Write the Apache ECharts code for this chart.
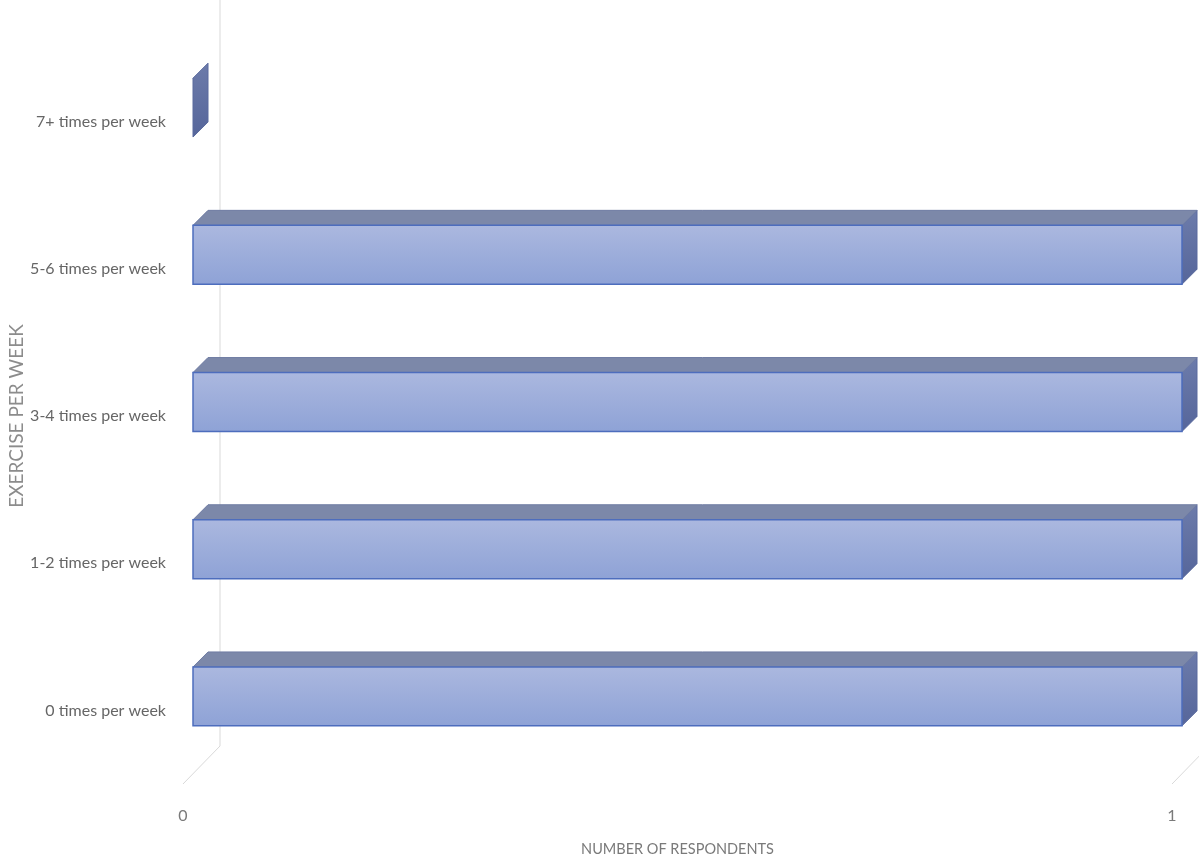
<!DOCTYPE html>
<html>
<head>
<meta charset="utf-8">
<script src="https://cdn.jsdelivr.net/npm/echarts@6/dist/echarts.min.js"></script>
<style>
  html, body { margin: 0; padding: 0; background: #ffffff; }
  #chart { width: 1199px; height: 859px; }
</style>
</head>
<body>
<div id="chart"></div>
<script>
// Exercise frequency categories (bottom to top) and respondent counts
const categories = ['0 times per week', '1-2 times per week', '3-4 times per week', '5-6 times per week', '7+ times per week'];
const respondents = [1, 1, 1, 1, 0];
const xTicks = [0, 1];

const FONT = 'Lato, "Open Sans", sans-serif';

// Pseudo-3D geometry: bar sits a little behind the floor's front edge
const BAR_OX = 10, BAR_OY = -14;   // shift of the bar's front face from the front plane
const BAR_DX = 15, BAR_DY = -15;   // bar depth
const WALL_DX = 37, WALL_DY = -38; // floor depth (front edge to back wall)

function renderBar(params, api) {
  const v = api.value(0), c = api.value(1);
  const p0 = api.coord([0, c]);
  const p1 = api.coord([v, c]);
  const band = api.size([0, 1])[1];
  const h = band * 0.4;
  const x0 = p0[0] + BAR_OX, x1 = p1[0] + BAR_OX;
  const yc = p0[1] + BAR_OY;
  const y0 = yc - h / 2, y1 = yc + h / 2;
  const children = [];
  // end face
  children.push({
    type: 'polygon',
    shape: { points: [[x1, y0], [x1 + BAR_DX, y0 + BAR_DY], [x1 + BAR_DX, y1 + BAR_DY], [x1, y1]] },
    style: {
      fill: new echarts.graphic.LinearGradient(0, 0, 1, 1, [
        { offset: 0, color: '#6d7cab' }, { offset: 1, color: '#55659a' }
      ]),
      stroke: '#5a6a9e', lineWidth: 1
    }
  });
  if (x1 - x0 > 1) {
    // top face
    children.push({
      type: 'polygon',
      shape: { points: [[x0, y0], [x0 + BAR_DX, y0 + BAR_DY], [x1 + BAR_DX, y0 + BAR_DY], [x1, y0]] },
      style: { fill: '#7c88a9', stroke: '#6f7ca3', lineWidth: 1 }
    });
    // front face
    children.push({
      type: 'rect',
      shape: { x: x0, y: y0, width: x1 - x0, height: y1 - y0 },
      style: {
        fill: new echarts.graphic.LinearGradient(0, 0, 0, 1, [
          { offset: 0, color: '#abb8df' }, { offset: 1, color: '#8ea2d6' }
        ]),
        stroke: '#4d6dbd', lineWidth: 1.5
      }
    });
  }
  return { type: 'group', children: children };
}

function renderFloor(params, api) {
  const cs = params.coordSys;
  const v = api.value(0);
  const x = api.coord([v, 0])[0];
  const yb = cs.y + cs.height;
  const children = [{
    type: 'line',
    shape: { x1: x, y1: yb, x2: x + WALL_DX, y2: yb + WALL_DY },
    style: { stroke: '#d9d9d9', lineWidth: 1 }
  }];
  if (v === 0) {
    children.push({
      type: 'line',
      shape: { x1: x + WALL_DX, y1: yb + WALL_DY, x2: x + WALL_DX, y2: 0 },
      style: { stroke: '#d9d9d9', lineWidth: 1 }
    });
  }
  return { type: 'group', children: children };
}

const chart = echarts.init(document.getElementById('chart'), null, { renderer: 'canvas' });
chart.setOption({
  animation: false,
  backgroundColor: '#ffffff',
  grid: { left: 183, right: 27, top: 48, bottom: 75, containLabel: false, outerBoundsMode: 'none' },
  xAxis: {
    type: 'value', min: 0, max: 1, interval: 1,
    name: 'NUMBER OF RESPONDENTS', nameLocation: 'middle', nameGap: 58, nameMoveOverlap: false,
    nameTextStyle: { fontFamily: FONT, fontSize: 14.5, color: '#7a7a7a' },
    axisLine: { show: false }, axisTick: { show: false }, splitLine: { show: false },
    axisLabel: {
      fontFamily: FONT, fontSize: 16, color: '#7a7a7a', margin: 24,
      formatter: function (val) { return xTicks.indexOf(val) >= 0 ? String(val) : ''; }
    }
  },
  yAxis: {
    type: 'category', data: categories,
    name: 'EXERCISE PER WEEK', nameLocation: 'middle', nameGap: 157, nameRotate: 90, nameMoveOverlap: false,
    nameTextStyle: { fontFamily: FONT, fontSize: 19, color: '#8c8c8c' },
    axisLine: { show: false }, axisTick: { show: false }, splitLine: { show: false },
    axisLabel: { fontFamily: FONT, fontSize: 16, color: '#666666', margin: 17 }
  },
  series: [
    {
      type: 'custom', name: 'floor', silent: true, z: 1,
      renderItem: renderFloor,
      data: xTicks.map(function (t) { return [t]; }),
      encode: { x: 0 }
    },
    {
      type: 'custom', name: 'Respondents', z: 2,
      renderItem: renderBar,
      data: respondents.map(function (v, i) { return [v, i]; }),
      encode: { x: 0, y: 1 }
    }
  ]
});
</script>
</body>
</html>
